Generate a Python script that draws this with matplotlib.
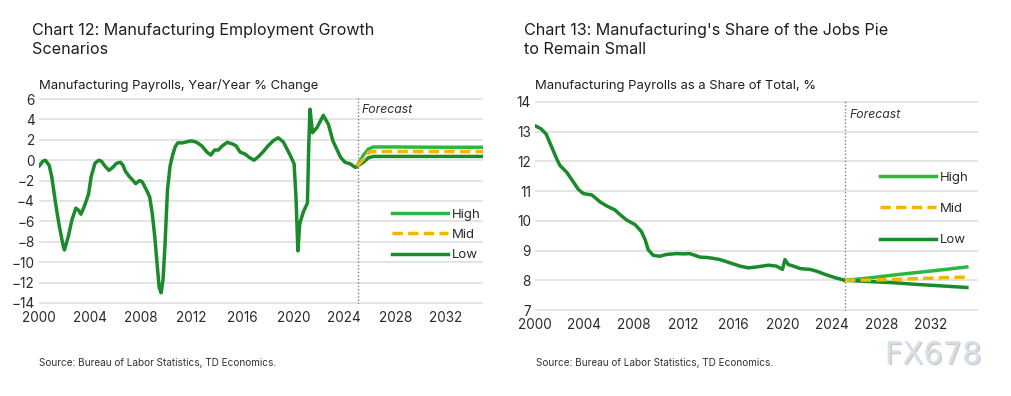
import matplotlib
matplotlib.use("Agg")
import matplotlib.pyplot as plt
import matplotlib.patheffects as pe

plt.rcParams['font.family'] = ['Inter', 'DejaVu Sans']

# ---------------- Data: Chart 12 (Y/Y % change) ----------------
hist12_x = [2000.0, 2000.3, 2000.5, 2000.8, 2001.0, 2001.3, 2001.6, 2001.9, 2002.0, 2002.3,
            2002.6, 2002.9, 2003.1, 2003.3, 2003.6, 2003.9, 2004.1, 2004.4, 2004.7, 2004.9,
            2005.2, 2005.5, 2005.8, 2006.1, 2006.4, 2006.6, 2006.8, 2007.1, 2007.4, 2007.6,
            2007.9, 2008.1, 2008.4, 2008.7, 2008.9, 2009.1, 2009.3, 2009.45, 2009.6, 2009.75,
            2009.9, 2010.1, 2010.3, 2010.5, 2010.7, 2010.9, 2011.3, 2011.6, 2012.0, 2012.4,
            2012.8, 2013.2, 2013.5, 2013.8, 2014.1, 2014.4, 2014.8, 2015.2, 2015.5, 2015.8,
            2016.2, 2016.5, 2016.9, 2017.2, 2017.6, 2018.0, 2018.4, 2018.8, 2019.2, 2019.7,
            2020.05, 2020.2, 2020.35, 2020.5, 2020.8, 2021.1, 2021.2, 2021.3, 2021.5, 2021.85,
            2022.35, 2022.75, 2023.1, 2023.7, 2024.05, 2024.45, 2024.85, 2025.0]
hist12_y = [-0.6, -0.1, 0.0, -0.5, -1.6, -4.2, -6.5, -8.4, -8.8, -7.5,
            -5.8, -4.7, -4.9, -5.3, -4.4, -3.3, -1.6, -0.3, 0.0, -0.1,
            -0.6, -1.0, -0.7, -0.3, -0.2, -0.5, -1.1, -1.6, -2.0, -2.3,
            -2.0, -2.1, -2.8, -3.6, -5.2, -7.5, -10.4, -12.5, -13.0, -11.7,
            -8.4, -2.9, -0.6, 0.5, 1.3, 1.7, 1.7, 1.8, 1.9, 1.75,
            1.4, 0.8, 0.5, 1.0, 1.0, 1.4, 1.75, 1.6, 1.4, 0.8,
            0.6, 0.3, 0.0, 0.3, 0.8, 1.4, 1.9, 2.2, 1.8, 0.6,
            -0.35, -3.6, -8.9, -6.2, -5.0, -4.2, 1.3, 5.0, 2.7, 3.2,
            4.4, 3.5, 1.9, 0.3, -0.2, -0.35, -0.7, -0.6]

fc12_x = [2025.0, 2025.5, 2025.9, 2026.3, 2028.0, 2030.0, 2032.0, 2034.9]
fc12_high = [-0.6, 0.5, 1.1, 1.3, 1.3, 1.28, 1.27, 1.27]
fc12_mid = [-0.6, 0.1, 0.75, 0.85, 0.85, 0.85, 0.85, 0.85]
fc12_low = [-0.6, -0.2, 0.25, 0.37, 0.37, 0.37, 0.37, 0.37]

# ---------------- Data: Chart 13 (share of total, %) ----------------
hist13_x = [2000.0, 2000.5, 2000.9, 2001.35, 2001.75, 2002.0, 2002.55, 2003.1, 2003.5, 2003.9,
            2004.6, 2005.25, 2005.8, 2006.45, 2006.9, 2007.4, 2008.1, 2008.6, 2008.9, 2009.15,
            2009.55, 2010.1, 2010.6, 2011.45, 2012.0, 2012.5, 2013.35, 2013.9, 2014.4, 2014.95,
            2015.75, 2016.55, 2017.25, 2017.9, 2018.85, 2019.5, 2020.0, 2020.2, 2020.47, 2020.87,
            2021.4, 2021.8, 2022.2, 2022.75, 2023.45, 2024.25, 2025.05]
hist13_y = [13.2, 13.09, 12.92, 12.48, 12.09, 11.87, 11.64, 11.31, 11.06, 10.92,
            10.87, 10.64, 10.5, 10.37, 10.2, 10.03, 9.87, 9.64, 9.37, 9.03,
            8.84, 8.81, 8.87, 8.9, 8.89, 8.9, 8.78, 8.77, 8.74, 8.7,
            8.59, 8.48, 8.42, 8.45, 8.51, 8.48, 8.37, 8.7, 8.53, 8.48,
            8.4, 8.38, 8.37, 8.31, 8.2, 8.09, 8.0]

fc13_x = [2025.05, 2027.0, 2029.0, 2031.0, 2033.0, 2034.9]
fc13_high = [8.0, 8.08, 8.18, 8.27, 8.36, 8.45]
fc13_mid = [8.0, 8.01, 8.03, 8.06, 8.09, 8.11]
fc13_low = [8.0, 7.96, 7.92, 7.86, 7.81, 7.76]

legend_labels = ['High', 'Mid', 'Low']
xticks = [2000, 2004, 2008, 2012, 2016, 2020, 2024, 2028, 2032]
forecast_start = 2025.05

C_DARK = '#1a8a2b'
C_HIGH = '#2cb83e'
C_MID = '#f4b400'
C_GRID = '#dcdcdc'
C_TXT = '#2a2a2a'

fig = plt.figure(figsize=(10.12, 3.96), dpi=100)

ax1 = fig.add_axes([39 / 1012, 1 - 304 / 396, (483 - 39) / 1012, (304 - 98) / 396])
ax2 = fig.add_axes([535 / 1012, 1 - 311 / 396, (978 - 535) / 1012, (311 - 101) / 396])


def style(ax, yticks, ylim, xlim):
    ax.set_xlim(*xlim)
    ax.set_ylim(*ylim)
    ax.set_yticks(yticks)
    ax.set_xticks(xticks)
    ax.set_xticklabels([str(t) for t in xticks])
    for s in ax.spines.values():
        s.set_visible(False)
    ax.tick_params(length=0, labelsize=9.8, colors=C_TXT)
    ax.tick_params(axis='x', pad=5)
    ax.tick_params(axis='y', pad=3)
    ax.grid(axis='y', color=C_GRID, linewidth=1.1)
    ax.set_axisbelow(True)
    ax.patch.set_alpha(0)


style(ax1, list(range(-14, 7, 2)), (-14.1, 6.1), (2000, 2034.9))
style(ax2, list(range(7, 15)), (6.97, 14.03), (2000, 2035.8))

for ax in (ax1, ax2):
    ax.axvline(forecast_start, color='#808080', linestyle=(0, (1, 1.5)), linewidth=1.0, zorder=1)

lw = 2.5
# Chart 12
ax1.plot(hist12_x, hist12_y, color=C_DARK, lw=lw, solid_capstyle='round', solid_joinstyle='round', zorder=3)
h1, = ax1.plot(fc12_x, fc12_high, color=C_HIGH, lw=lw, zorder=3)
m1, = ax1.plot(fc12_x, fc12_mid, color=C_MID, lw=lw, linestyle=(0, (3, 1.5)), zorder=4)
l1, = ax1.plot(fc12_x, fc12_low, color=C_DARK, lw=lw, zorder=3)

# Chart 13
ax2.plot(hist13_x, hist13_y, color=C_DARK, lw=lw, solid_capstyle='round', solid_joinstyle='round', zorder=3)
h2, = ax2.plot(fc13_x, fc13_high, color=C_HIGH, lw=lw, zorder=3)
m2, = ax2.plot(fc13_x, fc13_mid, color=C_MID, lw=lw, linestyle=(0, (3, 1.5)), zorder=4)
l2, = ax2.plot(fc13_x, fc13_low, color=C_DARK, lw=lw, zorder=3)

leg_kw = dict(frameon=False, fontsize=9.5, handlelength=4.2, handletextpad=0.3,
              borderaxespad=0, labelcolor=C_TXT)
leg1 = ax1.legend([h1, m1, l1], legend_labels, loc='upper left', labelspacing=0.62,
                  bbox_to_anchor=((387 - 39) / 444, (304 - 203) / 206), **leg_kw)
leg2 = ax2.legend([h2, m2, l2], legend_labels, loc='upper left', labelspacing=1.45,
                  bbox_to_anchor=((875 - 535) / 443, (311 - 166) / 210), **leg_kw)

# Forecast labels
ax1.text(2025.35, 4.95, 'Forecast', style='italic', fontsize=8.8, color='#333333', va='center')
ax2.text(2025.4, 13.55, 'Forecast', style='italic', fontsize=8.8, color='#333333', va='center')

# Titles
fig.text(32 / 1012, 1 - 40 / 396, 'Chart 12: Manufacturing Employment Growth\nScenarios',
         fontsize=11.6, color='#1e1e1e', va='center', ha='left', linespacing=1.4)
fig.text(524 / 1012, 1 - 40 / 396, "Chart 13: Manufacturing's Share of the Jobs Pie\nto Remain Small",
         fontsize=11.6, color='#1e1e1e', va='center', ha='left', linespacing=1.4)

fig.text(39 / 1012, 1 - 85 / 396, 'Manufacturing Payrolls, Year/Year % Change',
         fontsize=9.4, color='#1e1e1e', va='center', ha='left')
fig.text(535 / 1012, 1 - 86 / 396, 'Manufacturing Payrolls as a Share of Total, %',
         fontsize=9.4, color='#1e1e1e', va='center', ha='left')

fig.text(39 / 1012, 1 - 363 / 396, 'Source: Bureau of Labor Statistics, TD Economics.',
         fontsize=7.2, color='#333333', va='center', ha='left')
fig.text(536 / 1012, 1 - 363 / 396, 'Source: Bureau of Labor Statistics, TD Economics.',
         fontsize=7.2, color='#333333', va='center', ha='left')

# Watermark
fig.text(933 / 1012, 1 - 355 / 396, 'FX678', fontsize=22, color='#d3e0f0', ha='center', va='center',
         fontfamily=['DejaVu Sans'],
         path_effects=[pe.withSimplePatchShadow(offset=(1, -1), shadow_rgbFace='#b8a890', alpha=0.6)])

fig.savefig('out.png', dpi=100)
